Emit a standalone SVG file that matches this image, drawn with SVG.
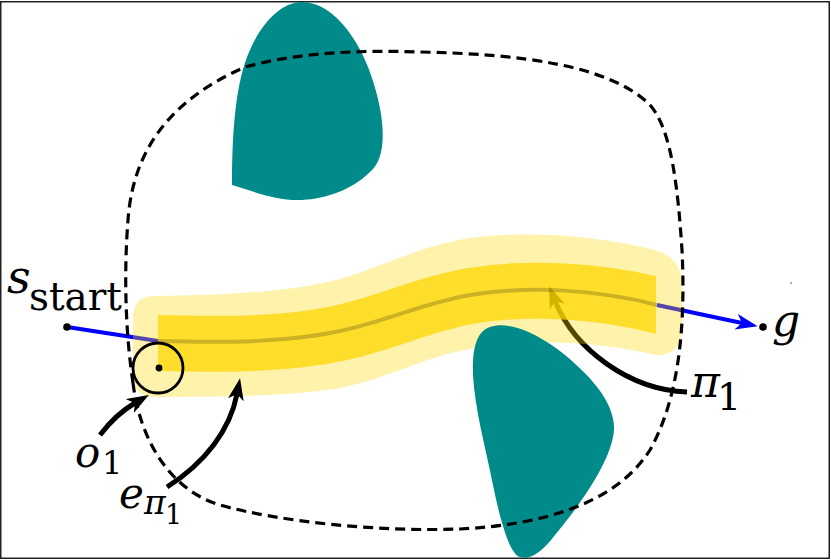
<svg xmlns="http://www.w3.org/2000/svg" width="831" height="560" viewBox="0 0 831 560">
<style>
.m{font-family:'DejaVu Serif','Liberation Serif',serif;font-style:italic;fill:#000}
.r{font-family:'DejaVu Serif','Liberation Serif',serif;font-style:normal;fill:#000}
.arr{fill:none;stroke:#000;stroke-width:5}
.blob{fill:#008B8A}
</style>
<defs>
<marker id="hk" viewBox="0 0 22 16" refX="6" refY="8" markerWidth="22" markerHeight="16" markerUnits="userSpaceOnUse" orient="auto"><path d="M0,0 L22,8 L0,16 L6,8 z" fill="#000"/></marker>
<marker id="hb" viewBox="0 0 22 16" refX="6" refY="8" markerWidth="22" markerHeight="16" markerUnits="userSpaceOnUse" orient="auto"><path d="M0,0 L22,8 L0,16 L6,8 z" fill="#0000FF"/></marker>
<clipPath id="ic"><rect x="158" y="200" width="498" height="250"/></clipPath>
</defs>
<rect x="0.75" y="1.75" width="828.5" height="556.5" fill="#fff" stroke="#222" stroke-width="1.5"/>
<g id="connectors">
<path d="M67,327 L158,341" stroke="#0000FF" stroke-width="4" fill="none"/>
<path d="M657,305 L742,323" stroke="#0000FF" stroke-width="4" fill="none" marker-end="url(#hb)"/>
<path class="arr" d="M687,392 C630,390 575,350 555,301" marker-end="url(#hk)"/>
</g>
<g id="corridor">
<path d="M133,318 Q133,296 155,296 C230,295 290,292 340,279 C390,264 420,246 470,238 C530,230 600,236 655,250 Q682,258 682,285 L682,330 Q680,357 655,355 C600,342 530,338 470,349 C420,358 390,378 340,388 C290,396 230,397 155,397 Q133,397 133,375 Z" fill="#FFD700" fill-opacity="0.33"/>
<path d="M130,343 L158,343 C230,345 290,344 340,333 C390,322 420,305 470,296 C530,286 600,291 656,305 L690,314" fill="none" stroke="#FFD700" stroke-opacity="0.75" stroke-width="56" clip-path="url(#ic)"/>
<path d="M158,341 C230,343 290,342 340,331 C390,320 420,304 470,295 C530,285 600,290 657,305" fill="none" stroke="#000" stroke-opacity="0.2" stroke-width="4"/>
</g>
<g id="obstacle1"><path class="blob" d="M232,185 C232,130 236,80 250,50 C262,22 282,2 302,2 C335,2 365,45 377,95 C386,130 385,160 370,172 C350,192 320,200 298,200 C275,200 255,192 232,185 Z"/></g>
<g id="obstacle2"><path class="blob" d="M490,327 C510,320 540,335 565,355 C595,380 615,405 614,430 C612,460 580,505 555,535 C540,555 528,560 520,557 C510,555 500,520 493,485 C485,445 475,410 473,375 C472,345 478,331 490,327 Z"/></g>
<g id="region"><path d="M133,383 C125,330 124,270 128,220 C133,150 170,100 245,67 C300,52 360,50 420,52 C520,54 610,65 650,105 C672,130 678,190 682,250 C686,330 678,400 650,450 C615,505 540,525 460,529 C380,532 280,522 220,505 C170,490 140,440 133,383 Z" fill="none" stroke="#000" stroke-width="3.2" stroke-dasharray="10 6"/></g>
<g id="o1node">
<circle cx="158" cy="368" r="25" fill="none" stroke="#000" stroke-width="2.8"/>
<circle cx="159" cy="368" r="3.4" fill="#000"/>
</g>
<g id="labelarrows">
<path class="arr" d="M100,435 Q116,414 135,403" marker-end="url(#hk)"/>
<path class="arr" d="M167,487 C205,463 230,430 237,394" marker-end="url(#hk)"/>
</g>
<g id="start"><circle cx="67" cy="327" r="3.8" fill="#000"/>
<text class="m" x="7" y="293" font-size="46">s</text>
<text class="r" x="29" y="310" font-size="40" textLength="93" lengthAdjust="spacingAndGlyphs">start</text></g>
<g id="goal"><circle cx="763" cy="327" r="3.8" fill="#000"/>
<text class="m" x="772" y="336" font-size="44">g</text></g>
<g id="pi1label"><text class="m" x="691" y="397" font-size="44">π</text><text class="r" x="717" y="410" font-size="38">1</text></g>
<g id="o1label"><text class="m" x="75" y="467" font-size="42">o</text><text class="r" x="102" y="474" font-size="32">1</text></g>
<g id="elabel"><text class="m" x="119" y="508" font-size="42">e</text><text class="m" x="144" y="514" font-size="33">π</text><text class="r" x="165" y="524" font-size="27">1</text></g>
<circle cx="791" cy="283" r="0.8" fill="#444"/>
</svg>
